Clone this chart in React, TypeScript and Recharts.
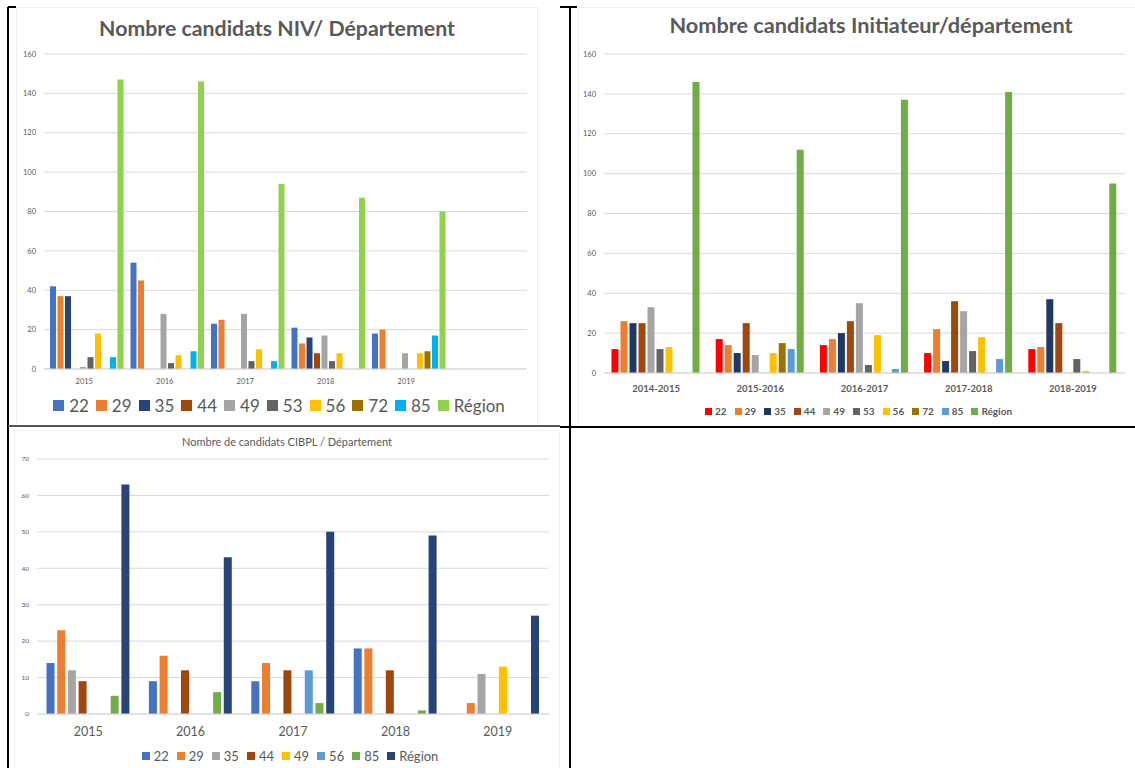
import React from 'react';
import { BarChart, Bar, XAxis, YAxis, CartesianGrid } from 'recharts';

// --- NIV / Département ---
const nivYears = ['2015', '2016', '2017', '2018', '2019', ''];
const niv22 = [42, 54, 23, 21, 18];
const niv29 = [37, 45, 25, 13, 20];
const niv35 = [37, 0, 0, 16, 0];
const niv44 = [0, 0, 0, 8, 0];
const niv49 = [1, 28, 28, 17, 8];
const niv53 = [6, 3, 4, 4, 0];
const niv56 = [18, 7, 10, 8, 8];
const niv72 = [0, 0, 0, 0, 9];
const niv85 = [6, 9, 4, 0, 17];
const nivRegion = [147, 146, 94, 87, 80];
const nivTicks = [0, 20, 40, 60, 80, 100, 120, 140, 160];

// --- Initiateur / département ---
const initYears = ['2014-2015', '2015-2016', '2016-2017', '2017-2018', '2018-2019'];
const init22 = [12, 17, 14, 10, 12];
const init29 = [26, 14, 17, 22, 13];
const init35 = [25, 10, 20, 6, 37];
const init44 = [25, 25, 26, 36, 25];
const init49 = [33, 9, 35, 31, 0];
const init53 = [12, 0, 4, 11, 7];
const init56 = [13, 10, 19, 18, 1];
const init72 = [0, 15, 0, 0, 0];
const init85 = [0, 12, 2, 7, 0];
const initRegion = [146, 112, 137, 141, 95];
const initTicks = [0, 20, 40, 60, 80, 100, 120, 140, 160];

// --- CIBPL / Département ---
const cibYears = ['2015', '2016', '2017', '2018', '2019'];
const cib22 = [14, 9, 9, 18, 0];
const cib29 = [23, 16, 14, 18, 3];
const cib35 = [12, 0, 0, 0, 11];
const cib44 = [9, 12, 12, 12, 0];
const cib49 = [0, 0, 0, 0, 13];
const cib56 = [0, 0, 12, 0, 0];
const cib85 = [5, 6, 3, 1, 0];
const cibRegion = [63, 43, 50, 49, 27];
const cibTicks = [0, 10, 20, 30, 40, 50, 60, 70];

const FONT = 'Lato, "Open Sans", sans-serif';
const TEXT = '#595959';

type Serie = { key: string; name: string; color: string; values: number[] };

const nivSeries: Serie[] = [
  { key: 's22', name: '22', color: '#4472C4', values: niv22 },
  { key: 's29', name: '29', color: '#ED7D31', values: niv29 },
  { key: 's35', name: '35', color: '#264478', values: niv35 },
  { key: 's44', name: '44', color: '#9E480E', values: niv44 },
  { key: 's49', name: '49', color: '#A5A5A5', values: niv49 },
  { key: 's53', name: '53', color: '#636363', values: niv53 },
  { key: 's56', name: '56', color: '#FFC000', values: niv56 },
  { key: 's72', name: '72', color: '#997300', values: niv72 },
  { key: 's85', name: '85', color: '#00B0F0', values: niv85 },
  { key: 'reg', name: 'Région', color: '#92D050', values: nivRegion },
];

const initSeries: Serie[] = [
  { key: 's22', name: '22', color: '#FF0000', values: init22 },
  { key: 's29', name: '29', color: '#ED7D31', values: init29 },
  { key: 's35', name: '35', color: '#203864', values: init35 },
  { key: 's44', name: '44', color: '#9E480E', values: init44 },
  { key: 's49', name: '49', color: '#A5A5A5', values: init49 },
  { key: 's53', name: '53', color: '#636363', values: init53 },
  { key: 's56', name: '56', color: '#FFC000', values: init56 },
  { key: 's72', name: '72', color: '#997300', values: init72 },
  { key: 's85', name: '85', color: '#5B9BD5', values: init85 },
  { key: 'reg', name: 'Région', color: '#70AD47', values: initRegion },
];

const cibSeries: Serie[] = [
  { key: 's22', name: '22', color: '#4472C4', values: cib22 },
  { key: 's29', name: '29', color: '#ED7D31', values: cib29 },
  { key: 's35', name: '35', color: '#A5A5A5', values: cib35 },
  { key: 's44', name: '44', color: '#9E480E', values: cib44 },
  { key: 's49', name: '49', color: '#FFC000', values: cib49 },
  { key: 's56', name: '56', color: '#5B9BD5', values: cib56 },
  { key: 's85', name: '85', color: '#70AD47', values: cib85 },
  { key: 'reg', name: 'Région', color: '#264478', values: cibRegion },
];

const buildRows = (cats: string[], series: Serie[]) =>
  cats.map((cat, i) => {
    const row: any = { cat };
    series.forEach(s => {
      row[s.key] = s.values[i];
    });
    return row;
  });

const LegendRow = ({ series, left, width, top, fontSize, square, gap, itemGap, bold }: any) => (
  <div
    style={{
      position: 'absolute', left, width, top: top - 12, height: 24,
      display: 'flex', alignItems: 'center', justifyContent: 'center',
      fontFamily: FONT, fontSize, fontWeight: bold ? 700 : 400, color: TEXT, whiteSpace: 'nowrap',
    }}
  >
    {series.map((s: Serie, i: number) => (
      <span key={s.key} style={{ display: 'flex', alignItems: 'center', marginLeft: i ? itemGap : 0 }}>
        <span style={{ display: 'inline-block', width: square, height: square, background: s.color, marginRight: gap }} />
        {s.name}
      </span>
    ))}
  </div>
);

const Panel = (p: any) => (
  <div style={{ position: 'absolute', left: p.left, top: p.top }}>
    <BarChart
      width={p.width}
      height={p.height}
      data={buildRows(p.cats, p.series)}
      margin={p.margin}
      barCategoryGap={p.catGap}
      barGap={p.barGap}
    >
      <CartesianGrid vertical={false} stroke="#D9D9D9" />
      <XAxis
        dataKey="cat"
        interval={0}
        height={20}
        tickLine={false}
        axisLine={{ stroke: '#D9D9D9' }}
        tickMargin={p.xMargin}
        tick={{ fill: TEXT, fontSize: p.xFont, fontFamily: FONT, fontWeight: p.xBold ? 700 : 400 }}
      />
      <YAxis
        domain={[0, p.ticks[p.ticks.length - 1]]}
        ticks={p.ticks}
        width={p.yWidth}
        axisLine={false}
        tickLine={false}
        tick={{ fill: TEXT, fontSize: p.yFont, fontFamily: FONT }}
      />
      {p.series.map((s: Serie) => (
        <Bar key={s.key} dataKey={s.key} name={s.name} fill={s.color} isAnimationActive={false} />
      ))}
    </BarChart>
  </div>
);

const line = (left: number, top: number, width: number, height: number, color = '#000') => (
  <div style={{ position: 'absolute', left, top, width, height, background: color }} />
);

export default function App() {
  return (
    <div style={{ position: 'absolute', left: 0, top: 0, width: 1135, height: 768, background: '#fff', overflow: 'hidden' }}>
      {/* faint chart frames */}
      <div style={{ position: 'absolute', left: 16, top: 7, width: 520, height: 418, border: '1px solid #EEEEEE' }} />
      <div style={{ position: 'absolute', left: 578, top: 7, width: 560, height: 418, border: '1px solid #EEEEEE' }} />
      <div style={{ position: 'absolute', left: 14, top: 430, width: 544, height: 345, border: '1px solid #EEEEEE' }} />

      {/* Chart 1 */}
      <div style={{ position: 'absolute', left: 0, top: 15, width: 554, textAlign: 'center', fontFamily: FONT, fontWeight: 700, fontSize: 21.3, color: TEXT }}>
        Nombre candidats NIV/ Département
      </div>
      <Panel
        left={0} top={0} width={570} height={426}
        cats={nivYears} series={nivSeries} ticks={nivTicks}
        margin={{ top: 54, right: 43, left: 14, bottom: 37 }}
        yWidth={30} yFont={7.5} xFont={7.5} xMargin={4}
        catGap={6} barGap={1.5}
      />
      <LegendRow series={nivSeries} left={0} width={558} top={405} fontSize={17} square={11} gap={5} itemGap={7} />

      {/* Chart 2 */}
      <div style={{ position: 'absolute', left: 571, top: 12, width: 600, textAlign: 'center', fontFamily: FONT, fontWeight: 700, fontSize: 21.7, color: TEXT }}>
        Nombre candidats Initiateur/département
      </div>
      <Panel
        left={570} top={0} width={565} height={426}
        cats={initYears} series={initSeries} ticks={initTicks}
        margin={{ top: 54, right: 10, left: 6, bottom: 33 }}
        yWidth={28} yFont={7.5} xFont={9.5} xBold xMargin={6}
        catGap={7.5} barGap={2}
      />
      <LegendRow series={initSeries} left={570} width={577} top={411} fontSize={10} bold square={7} gap={3} itemGap={8} />

      {/* Chart 3 */}
      <div style={{ position: 'absolute', left: 0, top: 435, width: 574, textAlign: 'center', fontFamily: FONT, fontSize: 11, color: TEXT }}>
        Nombre de candidats CIBPL  / Département
      </div>
      <Panel
        left={0} top={427} width={570} height={341}
        cats={cibYears} series={cibSeries} ticks={cibTicks}
        margin={{ top: 32, right: 21, left: 9, bottom: 34 }}
        yWidth={28} yFont={6.5} xFont={12.5} xMargin={7}
        catGap={9.5} barGap={2.7}
      />
      <LegendRow series={cibSeries} left={0} width={580} top={756} fontSize={13} square={8} gap={4} itemGap={8} />

      {/* black frame lines */}
      {line(7, 7, 2, 761)}
      {line(8, 6, 8, 2)}
      {line(569, 7, 2, 761)}
      {line(560, 6, 17, 2)}
      {line(8, 425, 552, 2, '#555')}
      {line(560, 426, 575, 2)}
    </div>
  );
}
